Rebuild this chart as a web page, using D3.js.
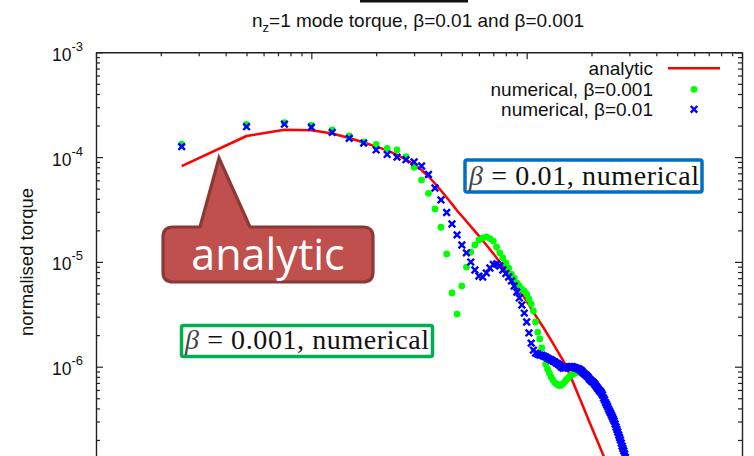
<!DOCTYPE html>
<html>
<head>
<meta charset="utf-8">
<script src="https://cdn.jsdelivr.net/npm/d3@7"></script>
<style>
  html, body { margin: 0; padding: 0; background: #fff; }
  svg { display: block; }
</style>
</head>
<body>
<svg id="chart" width="754" height="456"></svg>
<script>
// Mode index grid (x) shared by both numerical runs
const numericalX = [2.5,5,7.5,10,12.5,15,17.5,20,22.5,25,27.5,30,32.5,35,37.5,40,42.5,45,47.5,50,
  52.5,55,57.5,60,62.5,65,67.5,70,72.5,75,77.5,80,82.5,85,87.5,90,92.5,95,97.5,100,
  102.5,105,107.5,110,112.5,115,117.5,120,122.5,125,127.5,130,132.5,135,137.5,140,142.5,145,147.5,150,
  152.5,155,157.5,160,162.5,165,167.5,170,172.5,175,177.5,180,182.5,185,187.5,190,192.5,195,197.5,200,
  202.5,205,207.5,210,212.5,215,217.5,220,222.5,225,227.5,230,232.5,235,237.5,240,242.5,245,247.5,250,
  252.5,255,257.5,260,262.5,265,267.5,270,272.5,275,277.5,280,282.5,285,287.5,290,292.5];

// normalised torque, beta = 0.01
const torqueBeta01 = [1.26e-4,1.95e-4,2.06e-4,1.93e-4,1.72e-4,1.51e-4,1.36e-4,1.17e-4,1.06e-4,1.0e-4,
  9.44e-5,8.98e-5,8.22e-5,6.82e-5,5.07e-5,3.9e-5,2.96e-5,2.3e-5,1.81e-5,1.45e-5,
  1.22e-5,9.97e-6,8.37e-6,7.33e-6,7.18e-6,7.84e-6,8.75e-6,9.44e-6,9.55e-6,9.14e-6,
  8.37e-6,7.75e-6,7.18e-6,6.58e-6,5.89e-6,5.16e-6,4.53e-6,3.88e-6,3.25e-6,2.67e-6,
  2.10e-6,1.68e-6,1.44e-6,1.35e-6,1.32e-6,1.29e-6,1.29e-6,1.26e-6,1.24e-6,1.21e-6,
  1.18e-6,1.16e-6,1.13e-6,1.11e-6,1.08e-6,1.06e-6,1.03e-6,9.9e-7,9.7e-7,9.7e-7,
  9.8e-7,9.9e-7,1.0e-6,1.0e-6,1.0e-6,9.9e-7,9.8e-7,9.7e-7,9.6e-7,9.5e-7,
  9.3e-7,9.1e-7,8.8e-7,8.6e-7,8.4e-7,8.2e-7,8.0e-7,7.7e-7,7.5e-7,7.3e-7,
  7.15e-7,7.0e-7,6.76e-7,6.54e-7,6.33e-7,6.12e-7,5.93e-7,5.8e-7,5.61e-7,5.37e-7,
  5.03e-7,4.81e-7,4.55e-7,4.36e-7,4.17e-7,3.95e-7,3.78e-7,3.62e-7,3.46e-7,3.31e-7,
  3.17e-7,3.03e-7,2.84e-7,2.66e-7,2.52e-7,2.38e-7,2.23e-7,2.11e-7,2.0e-7,1.87e-7,
  1.75e-7,1.66e-7,1.57e-7,1.47e-7,1.37e-7,1.29e-7,1.2e-7];

// normalised torque, beta = 0.001
const torqueBeta001 = [1.33e-4,2.05e-4,2.13e-4,2.02e-4,1.82e-4,1.59e-4,1.40e-4,1.32e-4,1.21e-4,1.17e-4,
  1.01e-4,8.0e-5,6.04e-5,4.51e-5,3.2e-5,2.14e-5,1.19e-5,5.05e-6,3.18e-6,5.9e-6,
  8.93e-6,1.24e-5,1.45e-5,1.62e-5,1.69e-5,1.73e-5,1.67e-5,1.58e-5,1.39e-5,1.22e-5,
  1.09e-5,9.75e-6,8.74e-6,7.66e-6,7.0e-6,6.29e-6,5.89e-6,5.51e-6,5.27e-6,4.93e-6,
  4.42e-6,3.96e-6,3.40e-6,2.67e-6,2.14e-6,1.84e-6,1.51e-6,1.26e-6,1.06e-6,9.5e-7,
  8.7e-7,7.97e-7,7.46e-7,7.06e-7,6.84e-7,6.69e-7,6.61e-7,6.69e-7,6.9e-7,7.14e-7,
  7.46e-7,7.7e-7,7.97e-7,8.22e-7,8.4e-7,8.6e-7,8.7e-7,8.8e-7,8.9e-7,9.0e-7,
  9.0e-7,8.9e-7,8.7e-7,8.6e-7,8.4e-7,8.2e-7,8.0e-7,7.7e-7,7.5e-7,7.3e-7,
  7.15e-7,7.0e-7,6.76e-7,6.54e-7,6.33e-7,6.12e-7,5.93e-7,5.8e-7,5.61e-7,5.37e-7,
  5.03e-7,4.81e-7,4.55e-7,4.36e-7,4.17e-7,3.95e-7,3.78e-7,3.62e-7,3.46e-7,3.31e-7,
  3.17e-7,3.03e-7,2.84e-7,2.66e-7,2.52e-7,2.38e-7,2.23e-7,2.11e-7,2.0e-7,1.87e-7,
  1.75e-7,1.66e-7,1.57e-7,1.47e-7,1.37e-7,1.29e-7,1.2e-7];

// analytic torque curve
const analyticX = [2.5,5,7.5,10,12.5,15,17.5,20,22.5,25,27.5,30,32.5,35,37.5,40,42.5,45,47.5,50,
  55,60,65,70,75,80,90,100,110,120,130,140,150,160,180,200,220,240];
const analyticY = [8.22e-5,1.59e-4,1.82e-4,1.80e-4,1.68e-4,1.52e-4,1.38e-4,1.26e-4,1.16e-4,1.05e-4,
  9.48e-5,8.49e-5,7.53e-5,6.53e-5,5.6e-5,4.8e-5,4.12e-5,3.57e-5,3.09e-5,2.74e-5,
  2.18e-5,1.77e-5,1.45e-5,1.20e-5,9.97e-6,8.37e-6,5.89e-6,4.23e-6,3.08e-6,2.34e-6,
  1.78e-6,1.38e-6,1.08e-6,8.07e-7,4.51e-7,2.66e-7,1.67e-7,1.09e-7];

const yDecades = [1e-3, 1e-4, 1e-5, 1e-6, 1e-7];
const yLabelled = [1e-3, 1e-4, 1e-5, 1e-6];
const yExponents = ["-3", "-4", "-5", "-6"];
const xDecades = [1, 10, 100, 1000];

const legendLabels = ["analytic", "numerical, \u03b2=0.001", "numerical, \u03b2=0.01"];
const titleMain = "n", titleSub = "z", titleRest = "=1 mode torque, \u03b2=0.01 and \u03b2=0.001";
const yTitle = "normalised torque";

const svg = d3.select("#chart");
const sans = "'Liberation Sans', Arial, Helvetica, sans-serif";
const serif = "'Liberation Serif', 'Times New Roman', serif";

const x = d3.scaleLog().domain([1, 1000]).range([96, 742]);
const y = d3.scaleLog().domain([1e-7, 1e-3]).range([471.5, 52.3]);

// minor tick values: 2..9 per decade
const minorOf = (decades) => {
  const out = [];
  for (let i = 0; i < decades.length - 1; i++)
    for (let m = 2; m <= 9; m++) out.push(decades[i] * m);
  return out;
};
const yMinor = minorOf(yDecades.slice().reverse());
const xMinor = minorOf(xDecades);

const axisColor = "#222";
function styleAxis(g, keepDomain) {
  g.selectAll("line").attr("stroke", axisColor).attr("stroke-width", 1.2);
  g.select(".domain").attr("stroke", keepDomain ? axisColor : "none").attr("stroke-width", 1.4);
}

// left / right axes, ticks pointing inward
[[96, d3.axisLeft], [742, d3.axisRight]].forEach(([px, fn]) => {
  svg.append("g").attr("transform", `translate(${px},0)`)
    .call(fn(y).tickValues(yDecades).tickFormat("").tickSize(-7).tickSizeOuter(0))
    .call(g => styleAxis(g, true));
  svg.append("g").attr("transform", `translate(${px},0)`)
    .call(fn(y).tickValues(yMinor).tickFormat("").tickSize(-4).tickSizeOuter(0))
    .call(g => styleAxis(g, false));
});

// top axis
svg.append("g").attr("transform", "translate(0,52.3)")
  .call(d3.axisTop(x).tickValues(xDecades).tickFormat("").tickSize(-7).tickSizeOuter(0))
  .call(g => styleAxis(g, true));
svg.append("g").attr("transform", "translate(0,52.3)")
  .call(d3.axisTop(x).tickValues(xMinor).tickFormat("").tickSize(-4).tickSizeOuter(0))
  .call(g => styleAxis(g, false));

// y tick labels 10^n
yLabelled.forEach((v, i) => {
  const t = svg.append("text")
    .attr("x", 83).attr("y", y(v) + 8.5)
    .attr("text-anchor", "end")
    .attr("font-family", sans).attr("font-size", 17.5).attr("fill", "#111");
  t.append("tspan").text("10");
  t.append("tspan").attr("dy", -10).attr("font-size", 13).text(yExponents[i]);
});

// axis title
svg.append("text")
  .attr("transform", "translate(33,262) rotate(-90)")
  .attr("text-anchor", "middle")
  .attr("font-family", sans).attr("font-size", 18.5).attr("fill", "#111")
  .text(yTitle);

// title
const title = svg.append("text")
  .attr("x", 418).attr("y", 27).attr("text-anchor", "middle")
  .attr("font-family", sans).attr("font-size", 19).attr("fill", "#111");
title.append("tspan").text(titleMain);
title.append("tspan").attr("dy", 5).attr("font-size", 13).text(titleSub);
title.append("tspan").attr("dy", -5).text(titleRest);

// bar at the top edge
svg.append("rect").attr("x", 360).attr("y", 0).attr("width", 108).attr("height", 2.5).attr("fill", "#111");

// data layer
const plot = svg.append("g");
const line = d3.line().x(d => x(d[0])).y(d => y(d[1]));
plot.append("path")
  .datum(analyticX.map((v, i) => [v, analyticY[i]]))
  .attr("d", line).attr("fill", "none").attr("stroke", "#ff0000").attr("stroke-width", 2.5)
  .attr("stroke-linejoin", "round");

plot.append("g").selectAll("circle")
  .data(numericalX.map((v, i) => [v, torqueBeta001[i]]))
  .join("circle")
  .attr("cx", d => x(d[0])).attr("cy", d => y(d[1])).attr("r", 3.4)
  .attr("fill", "#00ff00");

const cross = (px, py, s) => `M${px - s},${py - s}L${px + s},${py + s}M${px - s},${py + s}L${px + s},${py - s}`;
plot.append("g").selectAll("path")
  .data(numericalX.map((v, i) => [v, torqueBeta01[i]]))
  .join("path")
  .attr("d", d => cross(x(d[0]), y(d[1]), 3.3))
  .attr("stroke", "#0000ff").attr("stroke-width", 2.4).attr("fill", "none");

// legend
const legendY = [68.3, 89.3, 109.3];
legendLabels.forEach((lab, i) => {
  svg.append("text").attr("x", 653).attr("y", legendY[i] + 6.8)
    .attr("text-anchor", "end").attr("font-family", sans).attr("font-size", 19).attr("fill", "#111")
    .text(lab);
});
svg.append("line").attr("x1", 668).attr("x2", 720).attr("y1", legendY[0]).attr("y2", legendY[0])
  .attr("stroke", "#ff0000").attr("stroke-width", 2.5);
svg.append("circle").attr("cx", 694).attr("cy", legendY[1]).attr("r", 3.4).attr("fill", "#00ff00");
svg.append("path").attr("d", cross(694, legendY[2], 3.3))
  .attr("stroke", "#0000ff").attr("stroke-width", 2.4).attr("fill", "none");

// boxed annotations
function boxedLabel(bx, by, bw, bh, color, betaText, rest, tx, ty, tw) {
  svg.append("rect").attr("x", bx).attr("y", by).attr("width", bw).attr("height", bh)
    .attr("rx", 2).attr("fill", "#fff").attr("stroke", color).attr("stroke-width", 3.5);
  const t = svg.append("text").attr("x", tx).attr("y", ty)
    .attr("font-family", serif).attr("font-size", 28).attr("fill", "#111")
    .attr("textLength", tw).attr("lengthAdjust", "spacing");
  t.append("tspan").attr("font-style", "italic").attr("fill", "#444").text(betaText);
  t.append("tspan").text(rest);
}
boxedLabel(465, 160, 237, 32, "#0070c0", "\u03b2", " = 0.01,  numerical", 469, 185, 230);
boxedLabel(181.5, 325.5, 251, 31, "#00b050", "\u03b2", " = 0.001,  numerical", 185, 348.5, 244);

// callout
const cx0 = 163, cy0 = 227, cx1 = 373, cy1 = 282, r = 10;
const callout = `M${cx0 + r},${cy0} L200,${cy0} L219,158 L250,${cy0} L${cx1 - r},${cy0}
  Q${cx1},${cy0} ${cx1},${cy0 + r} L${cx1},${cy1 - r} Q${cx1},${cy1} ${cx1 - r},${cy1}
  L${cx0 + r},${cy1} Q${cx0},${cy1} ${cx0},${cy1 - r} L${cx0},${cy0 + r} Q${cx0},${cy0} ${cx0 + r},${cy0} Z`;
svg.append("path").attr("d", callout).attr("fill", "#c0504d").attr("stroke", "#8c3836")
  .attr("stroke-width", 3.2).attr("stroke-linejoin", "miter");
svg.append("text").attr("x", 268).attr("y", 270).attr("text-anchor", "middle")
  .attr("font-family", "'Open Sans', sans-serif").attr("font-size", 43).attr("fill", "#fff")
  .text("analytic");
</script>
</body>
</html>
